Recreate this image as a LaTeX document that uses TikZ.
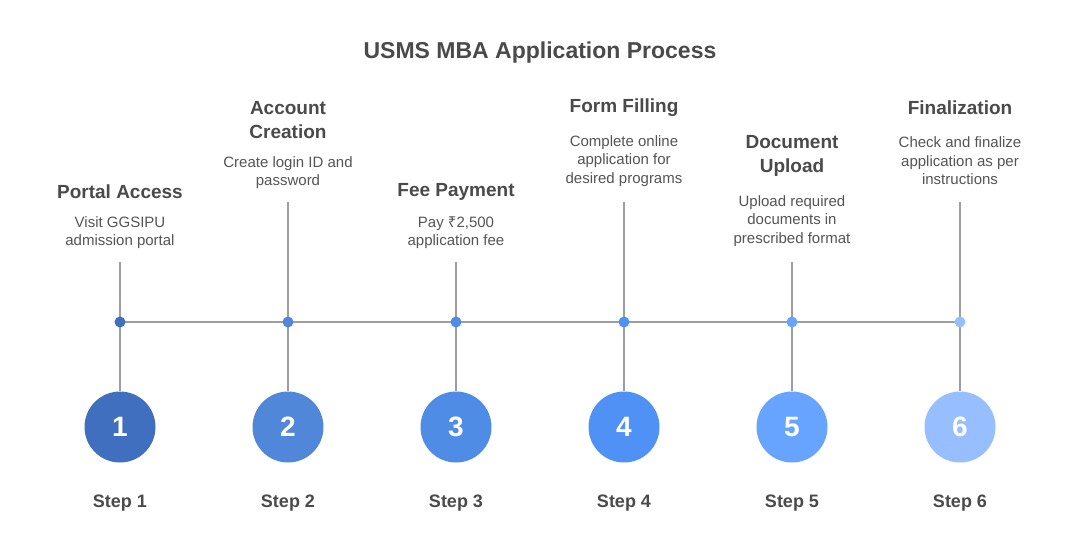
\documentclass[tikz,border=0pt]{standalone}
\usepackage{fontspec}
\setmainfont{Liberation Sans}
\newfontfamily\rupfont{Noto Sans}
\definecolor{txt}{HTML}{4A4A4A}
\definecolor{dtxt}{HTML}{555555}
\definecolor{ln}{HTML}{9E9E9E}
\definecolor{c1}{HTML}{416FBF}
\definecolor{c2}{HTML}{5087D8}
\definecolor{c3}{HTML}{4F8CE6}
\definecolor{c4}{HTML}{5091F6}
\definecolor{c5}{HTML}{66A4FF}
\definecolor{c6}{HTML}{97BEFF}
\tikzset{
  x=1pt, y=-1pt,
  head/.style={align=center, text=txt, font=\fontsize{19}{24}\selectfont\bfseries, inner sep=0pt},
  desc/.style={align=center, text=dtxt, font=\fontsize{15}{18.5}\selectfont, inner sep=0pt},
  stepcirc/.style={circle, minimum size=71pt, inner sep=0pt, text=white, font=\fontsize{28}{30}\selectfont\bfseries},
  dotnode/.style={circle, minimum size=11pt, inner sep=0pt},
  steplbl/.style={text=txt, font=\fontsize{18}{20}\selectfont\bfseries, inner sep=0pt},
  conn/.style={draw=ln, line width=2pt},
}
\begin{document}
\begin{tikzpicture}
\useasboundingbox (0,0) rectangle (1080,547);
\fill[white] (0,0) rectangle (1080,547);
\node[text=txt, font=\fontsize{23}{26}\selectfont\bfseries, inner sep=0pt] (title) at (540,53) {USMS MBA Application Process};

% headings
\node[head] (h1) at (120,192) {Portal Access};
\node[head] (h2) at (288,120) {Account\\Creation};
\node[head] (h3) at (456,192) {Fee Payment};
\node[head] (h4) at (624,108) {Form Filling};
\node[head] (h5) at (792,156) {Document\\Upload};
\node[head] (h6) at (960,108) {Finalization};

% descriptions
\node[desc] (d1) at (120,232.5) {Visit GGSIPU\\admission portal};
\node[desc] (d2) at (288,172.5) {Create login ID and\\password};
\node[desc] (d3) at (456,232.5) {Pay {\rupfont ₹}2,500\\application fee};
\node[desc] (d4) at (624,161) {Complete online\\application for\\desired programs};
\node[desc] (d5) at (792,221) {Upload required\\documents in\\prescribed format};
\node[desc] (d6) at (960,161) {Check and finalize\\application as per\\instructions};

% line tops
\coordinate (t1) at (120,262);
\coordinate (t2) at (288,202);
\coordinate (t3) at (456,262);
\coordinate (t4) at (624,202);
\coordinate (t5) at (792,262);
\coordinate (t6) at (960,202);

% circles
\foreach \i/\x in {1/120,2/288,3/456,4/624,5/792,6/960}{
  \node[stepcirc, fill=c\i] (c\i) at (\x,427) {\i};
  \node[steplbl] (s\i) at (\x,503) {Step \i};
  \coordinate (p\i) at (\x,322);
}
\draw[conn] (p1) -- (p6);
\foreach \i in {1,...,6}{
  \draw[conn] (t\i) -- (c\i.north);
}
\foreach \i in {1,...,6}{
  \node[dotnode, fill=c\i] (q\i) at (p\i) {};
}
\end{tikzpicture}
\end{document}
